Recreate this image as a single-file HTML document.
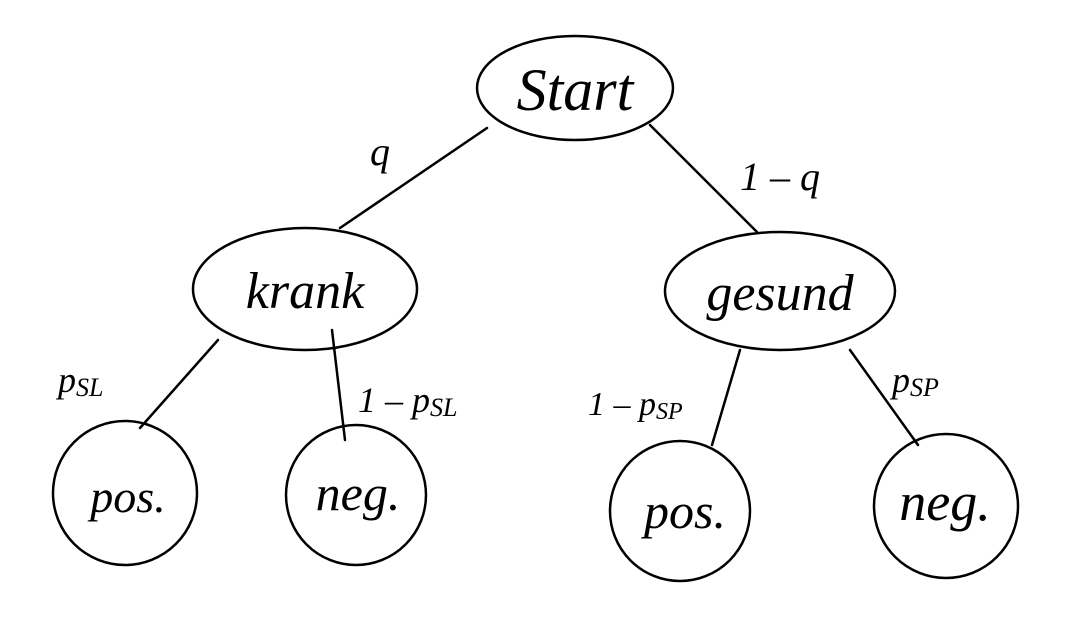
<!DOCTYPE html>
<html><head><meta charset="utf-8"><style>
html,body{margin:0;padding:0;background:#fff;}
svg{display:block;}
text{font-family:"Liberation Serif",serif;font-style:italic;fill:#000;}
</style></head><body>
<svg width="1068" height="624" viewBox="0 0 1068 624" xmlns="http://www.w3.org/2000/svg">
<g fill="none" stroke="#000" stroke-width="2.5" stroke-linecap="round">
<ellipse cx="575" cy="88" rx="98" ry="52"/>
<ellipse cx="305" cy="289" rx="112" ry="61"/>
<ellipse cx="780" cy="291" rx="115" ry="59"/>
<circle cx="125" cy="493" r="72"/>
<circle cx="356" cy="495" r="70"/>
<circle cx="680" cy="511" r="70"/>
<circle cx="946" cy="506" r="72"/>
<line x1="487" y1="128" x2="340" y2="228"/>
<line x1="650" y1="125" x2="757" y2="232"/>
<line x1="218" y1="340" x2="140" y2="428"/>
<line x1="332" y1="330" x2="345" y2="440"/>
<line x1="740" y1="350" x2="712" y2="445"/>
<line x1="850" y1="350" x2="918" y2="445"/>
</g>
<text x="575" y="110" font-size="60" text-anchor="middle">Start</text>
<text x="305" y="308" font-size="52" text-anchor="middle">krank</text>
<text x="780" y="310" font-size="52" text-anchor="middle">gesund</text>
<text x="128" y="512" font-size="46" text-anchor="middle">pos.</text>
<text x="358" y="510" font-size="50" text-anchor="middle">neg.</text>
<text x="685" y="528" font-size="50" text-anchor="middle">pos.</text>
<text x="945" y="520" font-size="54" text-anchor="middle">neg.</text>
<text x="380" y="165" font-size="40" text-anchor="middle">q</text>
<text x="780" y="190" font-size="40" text-anchor="middle">1 – q</text>
<text x="58" y="392" font-size="36">p<tspan font-size="26" dy="4">SL</tspan></text>
<text x="358" y="412" font-size="36">1 – p<tspan font-size="26" dy="4">SL</tspan></text>
<text x="588" y="415" font-size="34">1 – p<tspan font-size="24" dy="4">SP</tspan></text>
<text x="892" y="392" font-size="36">p<tspan font-size="26" dy="4">SP</tspan></text>
</svg>
</body></html>
